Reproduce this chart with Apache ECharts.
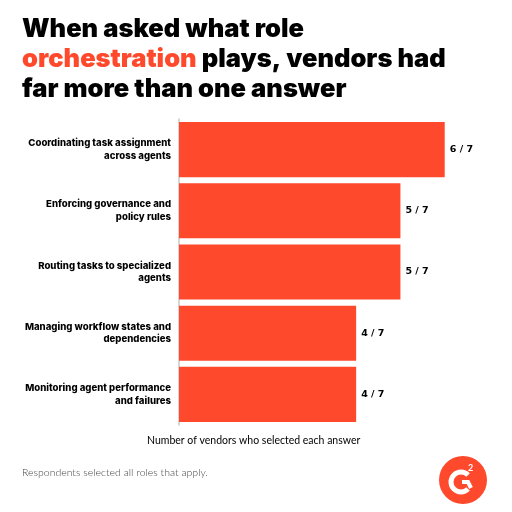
<!DOCTYPE html>
<html>
<head>
<meta charset="utf-8">
<script src="https://cdn.jsdelivr.net/npm/echarts@6/dist/echarts.min.js"></script>
<style>
  html, body { margin: 0; padding: 0; background: #fff; }
  #chart { width: 512px; height: 512px; }
</style>
</head>
<body>
<div id="chart"></div>
<script>
var categories = [
    'Coordinating task assignment\nacross agents',
    'Enforcing governance and\npolicy rules',
    'Routing tasks to specialized\nagents',
    'Managing workflow states and\ndependencies',
    'Monitoring agent performance\nand failures'
];
var selected = [6, 5, 5, 4, 4];
var totalVendors = 7;

var red = '#ff492c';
var myChart = echarts.init(document.getElementById('chart'));

myChart.setOption({
    backgroundColor: '#fff',
    title: {
        left: 17,
        top: 9,
        text: 'When asked what role\n{r|orchestration} plays, vendors had\nfar more than one answer',
        textStyle: {
            fontFamily: 'Inter',
            fontWeight: 900,
            fontSize: 25.5,
            lineHeight: 30,
            color: '#000',
            rich: {
                r: { color: red, fontFamily: 'Inter', fontWeight: 900, fontSize: 25.5, lineHeight: 30 }
            }
        }
    },
    grid: { left: 179, right: 23, top: 119, bottom: 87 },
    xAxis: {
        type: 'value',
        min: 0,
        max: totalVendors,
        show: false
    },
    yAxis: {
        type: 'category',
        data: categories,
        inverse: true,
        axisTick: { show: false },
        axisLine: { lineStyle: { color: '#c8c8c8', width: 1.5 } },
        axisLabel: {
            margin: 8,
            fontFamily: 'Inter',
            fontWeight: 800,
            fontSize: 9.6,
            lineHeight: 12.5,
            color: '#000',
            align: 'right'
        }
    },
    series: [{
        type: 'bar',
        data: selected,
        barCategoryGap: '10%',
        itemStyle: { color: red },
        label: {
            show: true,
            position: 'right',
            distance: 5,
            fontFamily: 'DejaVu Sans',
            fontWeight: 'bold',
            fontSize: 9.5,
            color: '#000',
            formatter: function (p) { return p.value + ' / ' + totalVendors; }
        }
    }],
    graphic: [
        {
            type: 'text', left: 147, top: 435,
            style: { text: 'Number of vendors who selected each answer', fontFamily: 'Lato', fontSize: 10.5, fill: '#000' }
        },
        {
            type: 'text', left: 22, top: 467,
            style: { text: 'Respondents selected all roles that apply.', fontFamily: 'Lato', fontWeight: 300, fontSize: 10.5, fill: '#444' }
        },
        {
            type: 'circle', shape: { cx: 463, cy: 480, r: 24 }, style: { fill: red }
        },
        {
            type: 'arc',
            shape: { cx: 461, cy: 482, r: 10, startAngle: Math.PI * 0.25, endAngle: Math.PI * 1.75, clockwise: true },
            style: { stroke: '#fff', lineWidth: 5, fill: 'none' }
        },
        {
            type: 'polyline',
            shape: { points: [[462, 482], [468, 482], [471, 488]] },
            style: { stroke: '#fff', lineWidth: 4, fill: 'none' }
        },
        {
            type: 'text', left: 468, top: 464,
            style: { text: '2', fontFamily: 'Lato', fontWeight: 'bold', fontSize: 9, fill: '#fff' }
        }
    ]
});
</script>
</body>
</html>
